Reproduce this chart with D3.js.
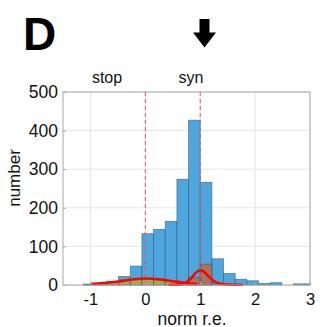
<!DOCTYPE html>
<html><head><meta charset="utf-8">
<script src="https://cdn.jsdelivr.net/npm/d3@7"></script>
<style>
html,body{margin:0;padding:0;background:#fff;}
svg{display:block;font-family:"Liberation Sans",Arial,sans-serif;}
</style></head>
<body><svg id="c" width="320" height="327"></svg>
<script>
// ---- data ----
const binEdges = [-1.125,-0.9125,-0.7,-0.4875,-0.275,-0.0625,0.15,0.3625,0.575,0.7875,1.0,1.2125,1.425,1.6375,1.85,2.0625,2.275,2.4875,2.7,2.9125,3.125];
const allCounts  = [2,3,9,22,49,133,144,165,274,427,266,68,30,15,11,4,6,0,3,3];
const stopCounts = [2,3,9,13,15,16,13,10,7,3,1,0,0,0,0,0,0,0,0,0];
const synCounts  = [0,0,0,0,0,0,0,0,3,20,54,3,0,0,0,0,0,0,0,0];
const stopFit = [[-1.0,2.5],[-0.75,5],[-0.5,9],[-0.25,14],[0,17],[0.25,15],[0.5,10],[0.75,5],[0.95,2.5]];
const synFit  = [[0.42,0],[0.55,0.5],[0.65,2],[0.75,7],[0.85,20],[0.92,32],[1.0,38],[1.08,33],[1.16,21],[1.25,10],[1.35,4],[1.5,1],[1.78,0]];
const markers = [{x:0,label:"stop"},{x:1,label:"syn"}];
const xTicks = [-1,0,1,2,3];
const yTicks = [0,100,200,300,400,500];
const xDomain = [-1.5,3];
const yDomain = [0,500];

// ---- layout ----
const L=63,R=310,T=92,B=285;
const svg=d3.select("#c");
const x=d3.scaleLinear().domain(xDomain).range([L,R]);
const y=d3.scaleLinear().domain(yDomain).range([B,T]);

svg.append("defs").append("clipPath").attr("id","clip")
  .append("rect").attr("x",L).attr("y",T-1).attr("width",R-L).attr("height",B-T+2);

// grid
const grid=svg.append("g");
grid.selectAll(".gx").data(xTicks).join("line")
  .attr("x1",d=>x(d)).attr("x2",d=>x(d)).attr("y1",T).attr("y2",B)
  .attr("stroke","#e6e6e6").attr("stroke-width",1);
grid.selectAll(".gy").data(yTicks).join("line")
  .attr("x1",L).attr("x2",R).attr("y1",d=>y(d)).attr("y2",d=>y(d))
  .attr("stroke","#e6e6e6").attr("stroke-width",1);

const plot=svg.append("g").attr("clip-path","url(#clip)");
function bars(counts,fill,op){
  const data=counts.map((c,i)=>({x0:binEdges[i],x1:binEdges[i+1],c})).filter(d=>d.c>0);
  plot.append("g").selectAll("rect").data(data).join("rect")
    .attr("x",d=>x(d.x0)).attr("width",d=>x(d.x1)-x(d.x0))
    .attr("y",d=>y(d.c)).attr("height",d=>y(0)-y(d.c))
    .attr("fill",fill).attr("fill-opacity",op)
    .attr("stroke","#27506e").attr("stroke-opacity",0.6).attr("stroke-width",0.8);
}
bars(allCounts,"#4ea6dc",1);
bars(stopCounts,"#c9a521",0.75);
bars(synCounts,"#c8603a",0.75);

// dashed markers
plot.selectAll(".mk").data(markers).join("line")
  .attr("x1",d=>x(d.x)).attr("x2",d=>x(d.x)).attr("y1",T).attr("y2",B)
  .attr("stroke","#f0505a").attr("stroke-width",1).attr("stroke-dasharray","4,3");

// fits
const line=d3.line().x(d=>x(d[0])).y(d=>y(d[1])).curve(d3.curveMonotoneX);
[stopFit,synFit].forEach(f=>{
  plot.append("path").datum(f).attr("d",line)
    .attr("fill","none").attr("stroke","#ff0000").attr("stroke-width",2.5);
});

// axes box
const axCol="#a8a8a8";
svg.append("rect").attr("x",L).attr("y",T).attr("width",R-L).attr("height",B-T)
  .attr("fill","none").attr("stroke",axCol).attr("stroke-width",1);

const xAxis=d3.axisBottom(x).tickValues(xTicks).tickSize(-3)
  .tickFormat(d=>d<0?"-"+Math.abs(d):d);
const gx=svg.append("g").attr("transform",`translate(0,${B})`).call(xAxis);
gx.select(".domain").remove();
gx.selectAll("line").attr("stroke",axCol);
gx.selectAll("text").attr("fill","#111").attr("font-size",16.5).attr("y",19.5).attr("dy",0);

const yAxis=d3.axisLeft(y).tickValues(yTicks).tickSize(-3).tickPadding(5);
const gy=svg.append("g").attr("transform",`translate(${L},0)`).call(yAxis);
gy.select(".domain").remove();
gy.selectAll("line").attr("stroke",axCol);
gy.selectAll("text").attr("fill","#111").attr("font-size",17.5);

// labels
svg.append("text").attr("x",192).attr("y",324.5).attr("text-anchor","middle")
  .attr("font-size",17.5).attr("fill","#111").text("norm r.e.");
svg.append("text").attr("transform","translate(20,178) rotate(-90)").attr("text-anchor","middle")
  .attr("font-size",17).attr("fill","#111").text("number");
svg.selectAll(".ml").data(markers).join("text")
  .attr("x",(d,i)=>[107,191][i]).attr("y",83).attr("text-anchor","middle")
  .attr("font-size",16).attr("fill","#111").text(d=>d.label);

// panel letter & arrow
svg.append("text").attr("x",23).attr("y",50).attr("font-size",46).attr("font-weight","bold")
  .attr("fill","#000").text("D");
svg.append("path").attr("d","M199.5,19 L209.5,19 L209.5,32.5 L216,32.5 L204.5,47.5 L193,32.5 L199.5,32.5 Z")
  .attr("fill","#000");
</script></body></html>
